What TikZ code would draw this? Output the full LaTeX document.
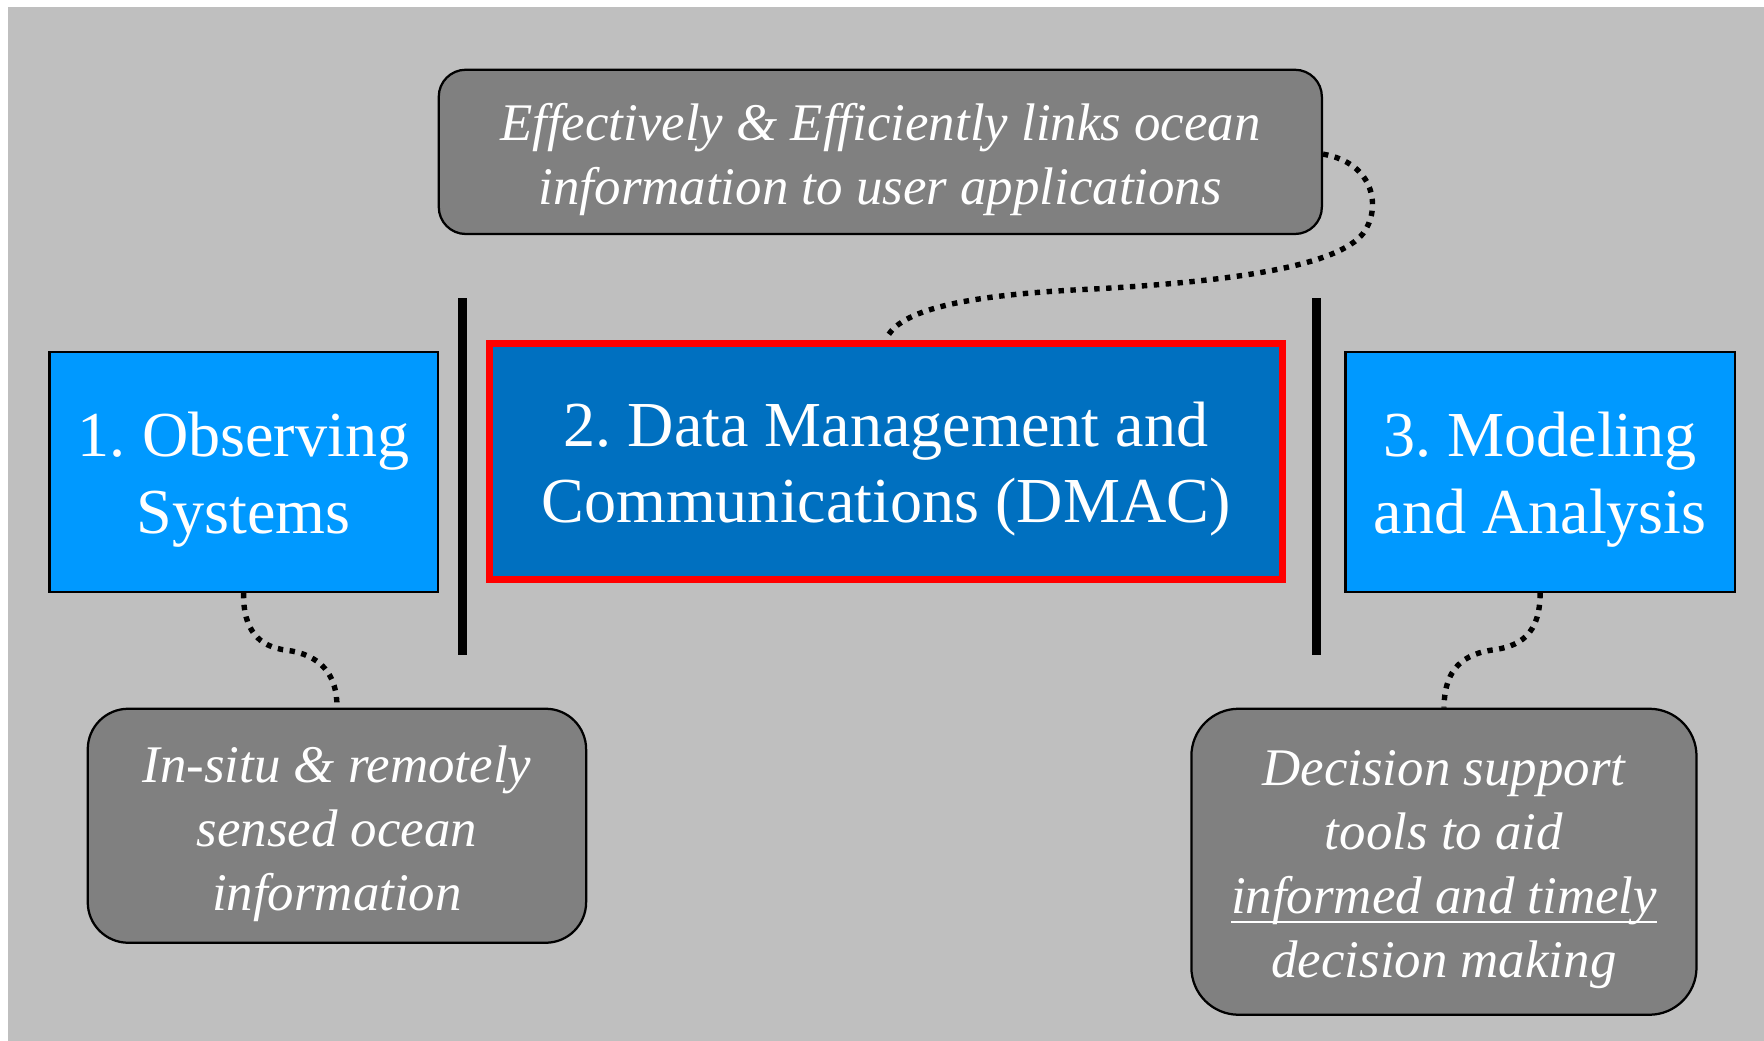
\documentclass[tikz,border=0pt]{standalone}
\usepackage{fontspec}
\setmainfont{Liberation Serif}
\frenchspacing
\definecolor{bggray}{HTML}{BFBFBF}
\definecolor{notegray}{HTML}{808080}
\definecolor{lightblue}{HTML}{0099FF}
\definecolor{darkblue}{HTML}{0070C0}
\definecolor{pptred}{HTML}{FF0000}
% underline placed just below the baseline
\newcommand{\ulin}[1]{\setbox0=\hbox{#1}\rlap{\vrule height -3.3pt depth 4.3pt width \wd0}\box0}
\tikzset{
  stagebox/.style={draw=black, line width=1pt, fill=lightblue, inner sep=0pt},
  corebox/.style={draw=pptred, line width=3pt, fill=darkblue, inner sep=0pt},
  notebox/.style={draw=black, line width=1pt, fill=notegray, inner sep=0pt},
  bigtext/.style={text=white, align=center, inner sep=0pt, font=\fontsize{28.5}{34}\selectfont},
  notetext/.style={text=white, align=center, inner sep=0pt, font=\itshape\fontsize{23.5}{28.4}\selectfont},
  divider/.style={line width=4pt, black},
  link/.style={line width=2.4pt, black, dash pattern=on 2.4pt off 2.9pt}
}
\begin{document}
\begin{tikzpicture}[x=0.5pt, y=-0.5pt]
\useasboundingbox (0,0) rectangle (1568,925);
\fill[white] (0,0) rectangle (1568,925);
\fill[bggray] (7,6) rectangle (1568,925);

% stage boxes
\node[stagebox, minimum width=172.5pt, minimum height=106.5pt] (obs) at (216.5,419.5) {};
\node[bigtext] (obs-t) at ([yshift=-3.5pt]obs.center) {1. Observing\\Systems};
\node[corebox, minimum width=352.5pt, minimum height=105pt] (dmac) at (787.5,410) {};
\node[bigtext] (dmac-t) at ([yshift=-3.5pt]dmac.center) {2. Data Management and\\Communications (DMAC)};
\node[stagebox, minimum width=173pt, minimum height=106.5pt] (model) at (1369,419.5) {};
\node[bigtext] (model-t) at ([yshift=-3.5pt]model.center) {3. Modeling\\and Analysis};

% dividers
\coordinate (d1t) at (411,265); \coordinate (d1b) at (411,582);
\coordinate (d2t) at (1170,265); \coordinate (d2b) at (1170,582);
\draw[divider] (d1t) -- (d1b);
\draw[divider] (d2t) -- (d2b);

% notes
\node[notebox, rounded corners=12pt, minimum width=392.5pt, minimum height=73pt] (links) at (782.5,135) {};
\node[notetext] (links-t) at ([yshift=-3.5pt]links.center)
  {Effectively \& Efficiently links ocean\\information to user applications};
\node[notebox, rounded corners=18pt, minimum width=221.5pt, minimum height=104pt] (insitu) at (299.5,734) {};
\node[notetext] (insitu-t) at ([yshift=-3.5pt]insitu.center)
  {In-situ \& remotely\\sensed ocean\\information};
\node[notebox, rounded corners=21pt, minimum width=224.5pt, minimum height=136pt] (decide) at (1283.5,766) {};
\node[notetext] (decide-t) at ([yshift=-3.5pt]decide.center)
  {Decision support\\tools to aid\\\ulin{informed and timely}\\decision making};

% dotted links between notes and stages
\draw[link] ([yshift=-1pt]links.east) .. controls (1222,145) and (1228,185) .. (1212,207)
  .. controls (1190,236) and (1100,250) .. (970,257)
  .. controls (860,262) and (798,275) .. (dmac.north);
\draw[link] (obs.south) .. controls (216,560) and (230,575) .. (255,578)
  .. controls (285,582) and (300,600) .. (insitu.north);
\draw[link] (model.south) .. controls (1369,565) and (1350,575) .. (1325,578)
  .. controls (1295,583) and (1284,600) .. (decide.north);
\end{tikzpicture}
\end{document}
